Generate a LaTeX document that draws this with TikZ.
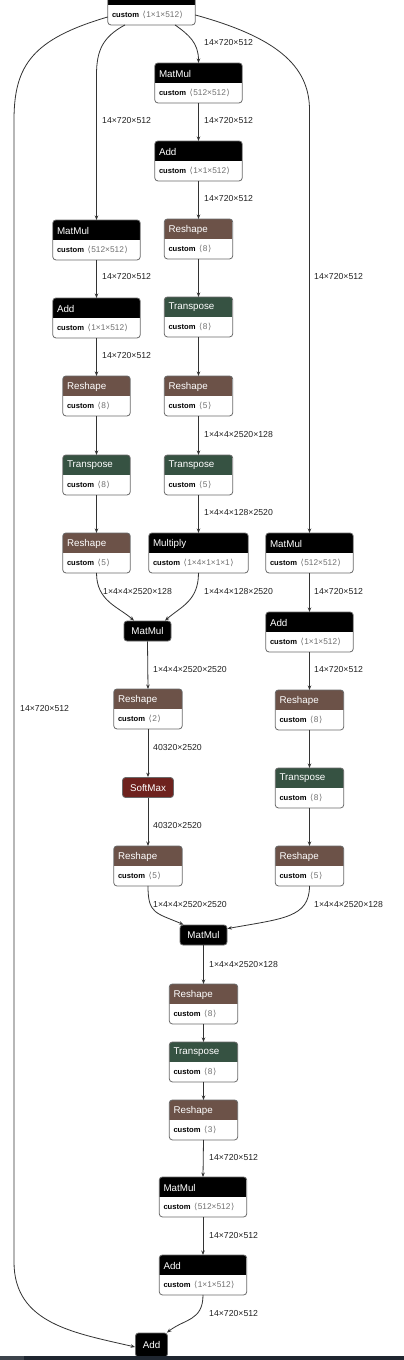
\documentclass[tikz,border=0pt]{standalone}
\usepackage{fontspec}
\setmainfont{Liberation Sans}
\newfontfamily\dejavu{DejaVu Sans}
\usetikzlibrary{arrows.meta}
\definecolor{rscol}{HTML}{6C5248}
\definecolor{tpcol}{HTML}{365242}
\definecolor{smcol}{HTML}{6E221E}
\definecolor{framecol}{HTML}{6A6A6A}
\definecolor{edgecol}{HTML}{333333}
\definecolor{paramcol}{HTML}{707070}
\definecolor{lblcol}{HTML}{222222}
\definecolor{bardark}{HTML}{1F2630}
\definecolor{barlight}{HTML}{3D444C}
\newcommand\shp[1]{{\dejavu ⟨}\kern0.6pt#1\kern0.6pt{\dejavu ⟩}}
\newcommand\opnode[7]{%
  \node[opframe, minimum width=#4pt, anchor=north] (#1) at (#2,#3) {};
  \begin{scope}
    \clip[rounded corners=3pt] (#1.south west) rectangle (#1.north east);
    \fill[#5] (#1.north west) rectangle ([yshift=-20pt]#1.north east);
  \end{scope}
  \draw[framecol, rounded corners=3pt, line width=0.8pt] (#1.south west) rectangle (#1.north east);
  \node[titletext, anchor=west] (#1-t) at ([xshift=4pt,yshift=-10.5pt]#1.north west) {#6};
  \node[bodytext, anchor=west] (#1-b) at ([xshift=4pt,yshift=-30pt]#1.north west) {\textbf{custom}\hspace{3.5pt}{\fontsize{8.3}{9}\selectfont\textcolor{paramcol}{\shp{#7}}}};
}
\tikzset{
  opframe/.style={rectangle, draw=none, inner sep=0pt, minimum height=39.5pt},
  titletext/.style={text=white, inner sep=0pt, font=\fontsize{9.8}{11}\selectfont},
  bodytext/.style={text=black, inner sep=0pt, font=\fontsize{7.6}{9}\selectfont},
  smallop/.style={rectangle, rounded corners=3pt, draw=framecol, line width=0.8pt, text=white, inner sep=0pt, minimum height=20pt, font=\fontsize{9.8}{11}\selectfont},
  edge/.style={draw=edgecol, line width=0.8pt, -{Stealth[length=4.5pt,width=3.5pt]}},
  lbl/.style={anchor=west, inner sep=0pt, text=lblcol, font=\fontsize{8.7}{10}\selectfont},
}
\begin{document}
\begin{tikzpicture}[x=1pt,y=-1pt]
\useasboundingbox (0,0) rectangle (404,1360);
\fill[white] (0,0) rectangle (404,1360);
% nodes
\opnode{top}{151.5}{-15}{87}{black}{}{1×1×512}
\opnode{mmA}{198.5}{63}{87}{black}{MatMul}{512×512}
\opnode{addA}{198.5}{141}{87}{black}{Add}{1×1×512}
\opnode{rsA}{198.5}{219}{68}{rscol}{Reshape}{8}
\opnode{tpA}{198.5}{297}{68}{tpcol}{Transpose}{8}
\opnode{rsB}{198.5}{376}{68}{rscol}{Reshape}{5}
\opnode{tpB}{198.5}{455}{68}{tpcol}{Transpose}{5}
\opnode{mul}{198.5}{533}{99}{black}{Multiply}{1×4×1×1×1}
\opnode{mmB}{96.5}{220}{87}{black}{MatMul}{512×512}
\opnode{addB}{96.5}{298}{87}{black}{Add}{1×1×512}
\opnode{rsC}{96.5}{376}{67}{rscol}{Reshape}{8}
\opnode{tpC}{96.5}{455}{67}{tpcol}{Transpose}{8}
\opnode{rsD}{96.5}{533}{67}{rscol}{Reshape}{5}
\node[smallop, fill=black, minimum width=47pt] (mmC) at (147.5,631) {MatMul};
\opnode{rsE}{148}{689}{68}{rscol}{Reshape}{2}
\node[smallop, fill=smcol, minimum width=51pt] (sm) at (148,787.5) {SoftMax};
\opnode{rsF}{148}{846}{68}{rscol}{Reshape}{5}
\opnode{mmD}{309.5}{533}{87}{black}{MatMul}{512×512}
\opnode{addC}{309.5}{612}{87}{black}{Add}{1×1×512}
\opnode{rsG}{309.5}{690}{68}{rscol}{Reshape}{8}
\opnode{tpD}{309.5}{768}{68}{tpcol}{Transpose}{8}
\opnode{rsH}{309.5}{846}{68}{rscol}{Reshape}{5}
\node[smallop, fill=black, minimum width=47pt] (mmE) at (203.5,935) {MatMul};
\opnode{rsI}{203.5}{984}{68}{rscol}{Reshape}{8}
\opnode{tpE}{203.5}{1042}{68}{tpcol}{Transpose}{8}
\opnode{rsJ}{203.5}{1100}{68}{rscol}{Reshape}{3}
\opnode{mmF}{203}{1177}{87}{black}{MatMul}{512×512}
\opnode{addD}{203}{1255}{87}{black}{Add}{1×1×512}
\node[smallop, fill=black, minimum width=32pt, minimum height=24pt] (addF) at (151.5,1345) {Add};
% bend coordinates
\coordinate (lb1) at (14,120);
\coordinate (lb2) at (14,1262);
% edges from top
\draw[edge] ([xshift=23.5pt]top.south) .. controls +(14,10) and +(0,-20) .. (mmA.north);
\draw[edge] ([xshift=-26.5pt]top.south) .. controls +(-22,12) and +(0,-25) .. (mmB.north |- 0,75) -- (mmB.north);
\draw[edge] ([yshift=-10pt]top.east) .. controls +(80,22) and +(0,-45) .. (mmD.north |- 0,110) -- (mmD.north);
\draw[edge] ([yshift=-12pt]top.west) .. controls +(-75,22) and +(0,-55) .. (lb1) -- (lb2) .. controls +(0,62) and +(-60,-14) .. ([yshift=-2pt]addF.west);
% middle column
\draw[edge] (mmA.south) -- (addA.north);
\draw[edge] (addA.south) -- (rsA.north);
\draw[edge] (rsA.south) -- (tpA.north);
\draw[edge] (tpA.south) -- (rsB.north);
\draw[edge] (rsB.south) -- (tpB.north);
\draw[edge] (tpB.south) -- (mul.north);
% left column
\draw[edge] (mmB.south) -- (addB.north);
\draw[edge] (addB.south) -- (rsC.north);
\draw[edge] (rsC.south) -- (tpC.north);
\draw[edge] (tpC.south) -- (rsD.north);
\draw[edge] (rsD.south) .. controls +(0,28) and +(-16,-14) .. ([xshift=-13.5pt]mmC.north);
\draw[edge] (mul.south) .. controls +(0,28) and +(16,-14) .. ([xshift=17.5pt]mmC.north);
\draw[edge] (mmC.south) -- (rsE.north);
\draw[edge] (rsE.south) -- (sm.north);
\draw[edge] (sm.south) -- (rsF.north);
% right column
\draw[edge] (mmD.south) -- (addC.north);
\draw[edge] (addC.south) -- (rsG.north);
\draw[edge] (rsG.south) -- (tpD.north);
\draw[edge] (tpD.south) -- (rsH.north);
\draw[edge] (rsF.south) .. controls +(0,28) and +(-28,-12) .. ([xshift=-20pt]mmE.north);
\draw[edge] (rsH.south) .. controls +(0,32) and +(55,-10) .. ([yshift=-4pt]mmE.north east);
% bottom
\draw[edge] (mmE.south) -- (rsI.north);
\draw[edge] (rsI.south) -- (tpE.north);
\draw[edge] (tpE.south) -- (rsJ.north);
\draw[edge] (rsJ.south) -- (mmF.north);
\draw[edge] (mmF.south) -- (addD.north);
\draw[edge] (addD.south) .. controls +(0,26) and +(18,-14) .. ([xshift=-1pt]addF.north east);
% labels
\node[lbl] (l1) at (204,43) {14×720×512};
\node[lbl] (l2) at (102,121) {14×720×512};
\node[lbl] (l3) at (314,277) {14×720×512};
\node[lbl] (l4) at (20,708) {14×720×512};
\node[lbl] (l5) at (204,121) {14×720×512};
\node[lbl] (l6) at (204,199) {14×720×512};
\node[lbl] (l7) at (204,434) {1×4×4×2520×128};
\node[lbl] (l8) at (204,512) {1×4×4×128×2520};
\node[lbl] (l9) at (102,277) {14×720×512};
\node[lbl] (l10) at (102,356) {14×720×512};
\node[lbl] (l11) at (103,591) {1×4×4×2520×128};
\node[lbl] (l12) at (204,591) {1×4×4×128×2520};
\node[lbl] (l13) at (153,669) {1×4×4×2520×2520};
\node[lbl] (l14) at (153,747) {40320×2520};
\node[lbl] (l15) at (153,825) {40320×2520};
\node[lbl] (l16) at (314,591) {14×720×512};
\node[lbl] (l17) at (314,669) {14×720×512};
\node[lbl] (l18) at (153,904) {1×4×4×2520×2520};
\node[lbl] (l19) at (314,904) {1×4×4×2520×128};
\node[lbl] (l20) at (209,964) {1×4×4×2520×128};
\node[lbl] (l21) at (209,1157) {14×720×512};
\node[lbl] (l22) at (209,1235) {14×720×512};
\node[lbl] (l23) at (209,1313) {14×720×512};
% bottom bar
\fill[barlight] (0,1356) rectangle (24,1360);
\fill[bardark] (24,1356) rectangle (404,1360);
\end{tikzpicture}
\end{document}
